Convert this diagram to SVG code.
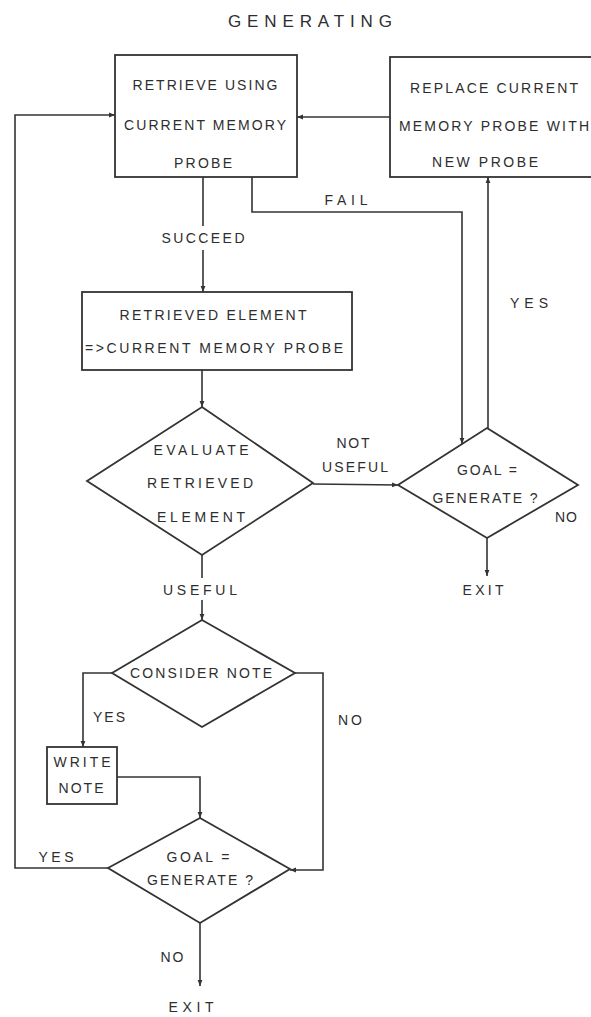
<svg xmlns="http://www.w3.org/2000/svg" width="591" height="1017" viewBox="0 0 591 1017">
<style>
.s{fill:none;stroke:#333;stroke-width:1.8}
.c{fill:none;stroke:#333;stroke-width:1.6}
text{font-family:"Liberation Sans",Arial,sans-serif;font-size:14px;fill:#2e2e2e;text-anchor:middle}
.t{font-size:17px}
</style>
<defs>
<marker id="a" viewBox="0 0 10 10" refX="10" refY="5" markerWidth="6" markerHeight="6" markerUnits="userSpaceOnUse" orient="auto">
<path d="M0,1 L10,5 L0,9 Z" fill="#333"/>
</marker>
</defs>
<rect width="591" height="1017" fill="#fff"/>
<text class="t" x="310" y="27" textLength="164" lengthAdjust="spacing">GENERATING</text>

<g id="retrieve">
<rect class="s" x="115" y="55" width="182" height="122"/>
<text x="205" y="90" textLength="145" lengthAdjust="spacing">RETRIEVE USING</text>
<text x="205" y="130" textLength="162" lengthAdjust="spacing">CURRENT MEMORY</text>
<text x="203" y="168" textLength="58" lengthAdjust="spacing">PROBE</text>
</g>
<g id="replace">
<rect class="s" x="390" y="57" width="210" height="120"/>
<text x="494" y="93" textLength="168" lengthAdjust="spacing">REPLACE CURRENT</text>
<text x="494" y="131" textLength="190" lengthAdjust="spacing">MEMORY PROBE WITH</text>
<text x="485" y="167" textLength="106" lengthAdjust="spacing">NEW PROBE</text>
</g>
<g id="retrieved">
<rect class="s" x="82" y="292" width="270" height="78"/>
<text x="213" y="320" textLength="187" lengthAdjust="spacing">RETRIEVED ELEMENT</text>
<text x="214" y="353" textLength="258" lengthAdjust="spacing">=&gt;CURRENT MEMORY PROBE</text>
</g>
<g id="evaluate">
<polygon class="s" points="202,407 313,483 202,555 87,481"/>
<text x="201" y="455" textLength="95" lengthAdjust="spacing">EVALUATE</text>
<text x="200" y="488" textLength="106" lengthAdjust="spacing">RETRIEVED</text>
<text x="201" y="522" textLength="88" lengthAdjust="spacing">ELEMENT</text>
</g>
<g id="goal1">
<polygon class="s" points="487,428 578,485 487,538 398,485"/>
<text x="487" y="475" textLength="60" lengthAdjust="spacing">GOAL =</text>
<text x="485" y="503" textLength="105" lengthAdjust="spacing">GENERATE ?</text>
</g>
<g id="consider">
<polygon class="s" points="202,620 295,673 202,727 112,673"/>
<text x="201" y="678" textLength="142" lengthAdjust="spacing">CONSIDER NOTE</text>
</g>
<g id="write">
<rect class="s" x="47" y="747" width="70" height="57"/>
<text x="82" y="767" textLength="57" lengthAdjust="spacing">WRITE</text>
<text x="81" y="793" textLength="45" lengthAdjust="spacing">NOTE</text>
</g>
<g id="goal2">
<polygon class="s" points="200,818 290,869 200,923 108,868"/>
<text x="198" y="862" textLength="63" lengthAdjust="spacing">GOAL =</text>
<text x="200" y="885" textLength="106" lengthAdjust="spacing">GENERATE ?</text>
</g>

<g id="connectors">
<polyline class="c" points="108,868 15,868 15,115 115,115" marker-end="url(#a)"/>
<line class="c" x1="390" y1="117" x2="297" y2="117" marker-end="url(#a)"/>
<line class="c" x1="203" y1="177" x2="203" y2="226"/>
<line class="c" x1="203" y1="250" x2="203" y2="292" marker-end="url(#a)"/>
<polyline class="c" points="252,177 252,212 462,212 462,444" marker-end="url(#a)"/>
<line class="c" x1="488" y1="428" x2="488" y2="177" marker-end="url(#a)"/>
<line class="c" x1="487" y1="538" x2="487" y2="576" marker-end="url(#a)"/>
<line class="c" x1="202" y1="370" x2="202" y2="407" marker-end="url(#a)"/>
<line class="c" x1="313" y1="484" x2="398" y2="485" marker-end="url(#a)"/>
<line class="c" x1="202" y1="555" x2="202" y2="578"/>
<line class="c" x1="202" y1="600" x2="202" y2="620" marker-end="url(#a)"/>
<polyline class="c" points="112,673 83,673 83,747" marker-end="url(#a)"/>
<polyline class="c" points="295,673 323,673 323,870 290,870" marker-end="url(#a)"/>
<polyline class="c" points="117,777 200,777 200,818" marker-end="url(#a)"/>
<line class="c" x1="200" y1="923" x2="200" y2="986" marker-end="url(#a)"/>
<text x="346" y="205" textLength="43" lengthAdjust="spacing">FAIL</text>
<text x="203" y="243" textLength="83" lengthAdjust="spacing">SUCCEED</text>
<text x="529" y="308" textLength="38" lengthAdjust="spacing">YES</text>
<text x="353" y="448" textLength="33" lengthAdjust="spacing">NOT</text>
<text x="355" y="472" textLength="66" lengthAdjust="spacing">USEFUL</text>
<text x="566" y="522" textLength="22" lengthAdjust="spacing">NO</text>
<text x="483" y="595" textLength="41" lengthAdjust="spacing">EXIT</text>
<text x="200" y="595" textLength="74" lengthAdjust="spacing">USEFUL</text>
<text x="109" y="722" textLength="32" lengthAdjust="spacing">YES</text>
<text x="350" y="725" textLength="24" lengthAdjust="spacing">NO</text>
<text x="56" y="862" textLength="35" lengthAdjust="spacing">YES</text>
<text x="172" y="962" textLength="23" lengthAdjust="spacing">NO</text>
<text x="191" y="1012" textLength="45" lengthAdjust="spacing">EXIT</text>
</g>
</svg>
